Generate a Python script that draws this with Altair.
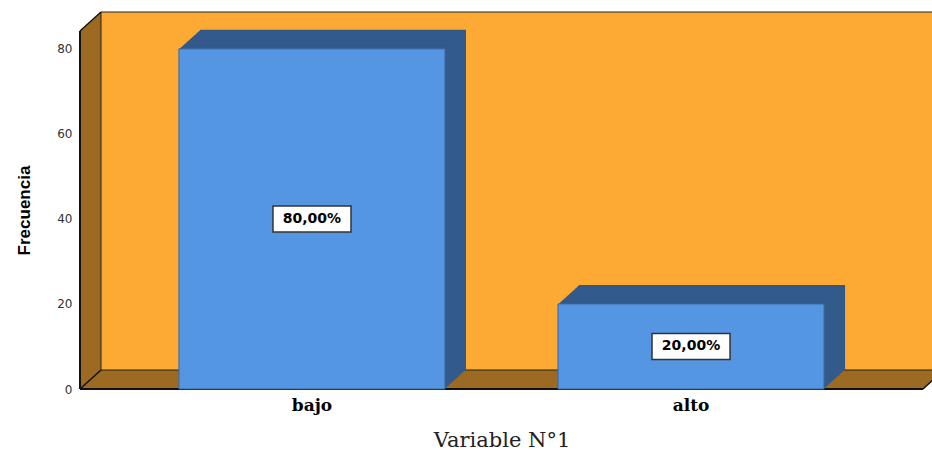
import altair as alt
import pandas as pd

# Frequency table for "Variable N°1"
categorias = ["bajo", "alto"]
frecuencias = [80, 20]

total = sum(frecuencias)
porcentajes = [f / total * 100 for f in frecuencias]
etiquetas = [f"{p:.2f}".replace(".", ",") + "%" for p in porcentajes]

# Plot area (front plane) and the depth of the 3D extrusion, in pixels
W, H = 843, 358
DX, DY = 21, 19

NARANJA = "#fdaa35"
MARRON = "#9c6a22"
AZUL = "#5596e3"
AZUL_OSCURO = "#335a8c"

df = pd.DataFrame({
    "categoria": categorias,
    "frecuencia": frecuencias,
    "mitad": [f / 2 for f in frecuencias],
    "etiqueta": etiquetas,
})
uno = pd.DataFrame({"k": [0]})

xscale = alt.Scale(domain=categorias, paddingInner=0.298, paddingOuter=0.261)
yscale = alt.Scale(domain=[0, 84.2], nice=False, zero=True)

xaxis = alt.Axis(
    title="Variable N°1", labelAngle=0,
    labelFont="DejaVu Serif", labelFontWeight="bold", labelFontSize=17,
    labelColor="#000000", labelPadding=8,
    ticks=False, tickSize=0, domain=False, grid=False,
    titleFont="DejaVu Serif", titleFontSize=21, titleFontWeight="normal",
    titleColor="#222222", titleBaseline="alphabetic", titleY=57,
)
yaxis = alt.Axis(
    title="Frecuencia", values=[0, 20, 40, 60, 80],
    labelFont="DejaVu Sans", labelFontSize=12, labelColor="#333333",
    labelPadding=8, ticks=False, tickSize=0, domain=False, grid=False,
    titleFont="Liberation Sans", titleFontWeight="bold", titleFontSize=17,
    titleColor="#000000", titleAngle=270, titleBaseline="alphabetic",
    titleAlign="center", titleX=-51, titleY=H / 2,
)

X = alt.X("categoria:N", scale=xscale, axis=xaxis, sort=categorias)
Y = alt.Y("frecuencia:Q", scale=yscale, axis=yaxis)
Ymid = alt.Y("mitad:Q", scale=yscale, axis=yaxis)


def desplazamiento(i):
    """Offsets that push a whole mark i pixels back into depth."""
    dy = -i * DY / DX
    return dict(xOffset=i, x2Offset=i, yOffset=dy, y2Offset=dy)


capas = []

# Brown side wall and floor: the front plane extruded backwards
for i in range(DX, -1, -1):
    capas.append(
        alt.Chart(uno).mark_rect(fill=MARRON, **desplazamiento(i))
        .encode(x=alt.value(0), x2=alt.value(W), y=alt.value(0), y2=alt.value(H))
    )

# Orange back wall
capas.append(
    alt.Chart(uno).mark_rect(
        fill=NARANJA, stroke="#222222", strokeWidth=1, **desplazamiento(DX)
    ).encode(x=alt.value(0), x2=alt.value(W), y=alt.value(0), y2=alt.value(H))
)


# Frame edges
def arista(x, y, x2, y2, ancho=1.5):
    return alt.Chart(uno).mark_rule(color="#111111", strokeWidth=ancho).encode(
        x=alt.value(x), y=alt.value(y), x2=alt.value(x2), y2=alt.value(y2)
    )


capas.append(arista(0, 0, DX, -DY))
capas.append(arista(0, H, DX, H - DY))
capas.append(arista(W, H, W + DX, H - DY))
capas.append(arista(0, 0, 0, H, 2))
capas.append(arista(0, H, W, H, 2))

# Bars: dark extrusion for top and side faces, then the front face
for i in range(DX, 0, -1):
    capas.append(
        alt.Chart(df).mark_bar(fill=AZUL_OSCURO, **desplazamiento(i))
        .encode(x=X, y=Y)
    )
capas.append(
    alt.Chart(df).mark_bar(
        fill=AZUL, stroke="#3b659b", strokeWidth=1
    ).encode(x=X, y=Y)
)

# Percentage labels in white boxes at half the bar height
capas.append(
    alt.Chart(df).mark_point(
        shape="M-1,-0.333L1,-0.333L1,0.333L-1,0.333Z", size=78 * 78,
        filled=True, fill="white", fillOpacity=1, opacity=1,
        stroke="#333333", strokeWidth=1.5,
    ).encode(x=X, y=Ymid)
)
capas.append(
    alt.Chart(df).mark_text(
        font="DejaVu Sans", fontWeight="bold", fontSize=14, color="#000000",
        align="center", baseline="middle",
    ).encode(x=X, y=Ymid, text="etiqueta:N")
)

chart = alt.layer(*capas).properties(
    width=W, height=H,
    autosize=alt.AutoSizeParams(type="none"),
    padding={"left": 80, "top": 31, "right": 9, "bottom": 62},
    background="white",
).configure_view(strokeWidth=0)

chart.save("out.html", embed_options={"renderer": "svg", "actions": False})
